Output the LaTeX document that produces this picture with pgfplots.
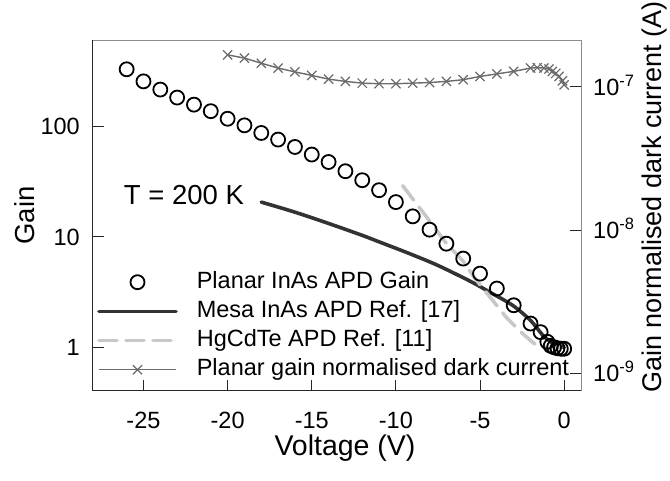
\documentclass[border=0pt]{standalone}
\usepackage{pgfplots}
\pgfplotsset{compat=1.18}
\usepackage{fontspec}
\setmainfont{Liberation Sans}

\definecolor{mesa}{HTML}{333333}
\definecolor{hgcdte}{HTML}{C8C8C8}
\definecolor{darkcur}{HTML}{6B6B6B}
\definecolor{boxgray}{HTML}{8C8C8C}

\newcommand{\tickfont}{\fontsize{23.5bp}{28bp}\selectfont}
\newcommand{\labfont}{\fontsize{28.5bp}{34bp}\selectfont}

\begin{document}
\begin{tikzpicture}
\pgfplotsset{
  every axis/.append style={
    scale only axis, width=488bp, height=351bp,
    xmin=-28, xmax=1,
    tick align=inside, major tick length=11bp,
    yminorticks=false, xminorticks=false,
    tick style={black!85, line width=1bp},
  },
}
% left axis: gain
\begin{axis}[
  ymode=log, ymin=0.402, ymax=604,
  axis x line*=bottom, axis y line*=left,
  axis line style={-, black!85, line width=1bp},
  xtick={-25,-20,-15,-10,-5,0},
  xticklabels={-25,-20,-15,-10,-5,0},
  ytick={1,10,100}, yticklabels={1,10,100},
  xticklabel style={font=\tickfont, anchor=base, yshift=-37.7bp, inner sep=0pt},
  yticklabel style={font=\tickfont, anchor=base east, xshift=-13bp, yshift=-8.4bp, inner sep=0pt},
  xlabel={Voltage (V)}, ylabel={Gain},
  xlabel style={at={([xshift=8bp,yshift=-65bp]axis description cs:0.5,0)}, anchor=base, font=\labfont, inner sep=0pt},
  ylabel style={at={([xshift=-58bp]axis description cs:0,0.5)}, anchor=base, font=\fontsize{27.5bp}{32bp}\selectfont, inner sep=0pt},
  legend style={at={(axis description cs:0,0)}, anchor=south west, xshift=4bp, yshift=10bp,
    draw=none, fill=none, inner sep=0pt, row sep=7.2bp,
    font=\fontsize{23.5bp}{28bp}\selectfont,
    nodes={inner sep=0pt, text height=17bp, text depth=5bp}},
  legend cell align=left,
  legend image code/.code={
    \draw[mark repeat=2,mark phase=2,#1] plot coordinates {(0bp,0bp) (38.5bp,0bp) (77bp,0bp)};
    \path (96bp,0bp);
  },
]
\coordinate (bl) at (rel axis cs:0,0);
\coordinate (tr) at (rel axis cs:1,1);

\addplot[only marks, mark=o, mark size=7bp, mark options={line width=1.8bp}, black] coordinates {
  (-26,328) (-25,255) (-24,215) (-23,182) (-22,157) (-21,137) (-20,117) (-19,102)
  (-18,87) (-17,75.8) (-16,65) (-15,55.5) (-14,47.5) (-13,39.2) (-12,32.5) (-11,26.4)
  (-10,20.6) (-9,15.3) (-8,11.6) (-7,8.66) (-6,6.35) (-5,4.64) (-4,3.40) (-3,2.40)
  (-2,1.64) (-1.4,1.37) (-1,1.12) (-0.8,1.03) (-0.6,1.0) (-0.4,0.98) (-0.2,0.97) (0,0.97)
};
\addlegendentry{Planar InAs APD Gain}

\addplot[mesa, line width=3.6bp, line cap=round, smooth] coordinates {
  (-18,20.6) (-16,16.7) (-14,13.2) (-12,10.3) (-11,9.0) (-9.2,7.05) (-7.5,5.5)
  (-5.5,3.9) (-4.45,3.17) (-3.07,2.4) (-2,1.75) (-1.3,1.3) (-0.8,1.12) (-0.3,1.03) (0,1.0)
};
\addlegendentry{Mesa InAs APD Ref. [17]}

\addplot[hgcdte, line width=3.6bp, line cap=round, dash pattern=on 18bp off 9bp] coordinates {
  (-9.6,29) (-8.3,16) (-7,8.7) (-6,6.0) (-5.3,4.2) (-4.25,2.66) (-3.46,1.88)
  (-2.57,1.37) (-1.9,1.12) (-1.5,1.0) (0,1.0)
};
\addlegendentry{HgCdTe APD Ref. [11]}

\addlegendimage{darkcur, line width=1.4bp, mark=x, mark size=6.5bp, mark options={line width=1.2bp}}
\addlegendentry{Planar gain normalised dark current}

\node[anchor=base west, inner sep=0pt, font=\fontsize{27.5bp}{32bp}\selectfont] at (axis cs:-26.17,19.8) {T = 200 K};
\end{axis}

% right axis: gain normalised dark current
\begin{axis}[
  ymode=log, ymin=7.52e-10, ymax=2.12e-7,
  axis x line*=top, axis y line*=right,
  axis line style={-, boxgray, line width=1bp},
  xtick=\empty,
  ytick={1e-9,1e-8,1e-7},
  yticklabels={10\textsuperscript{-9},10\textsuperscript{-8},10\textsuperscript{-7}},
  yticklabel style={font=\tickfont, anchor=base west, xshift=12bp, yshift=-8.4bp, inner sep=0pt},
  ylabel={Gain normalised dark current (A)},
  ylabel style={at={([xshift=80bp,yshift=-2bp]axis description cs:1,0)}, anchor=base west, font=\fontsize{27bp}{32bp}\selectfont, inner sep=0pt},
]
\addplot[darkcur, line width=1.4bp, mark=x, mark size=6.5bp, mark options={line width=1.2bp}] coordinates {
  (-20,1.67e-7) (-19,1.585e-7) (-18,1.46e-7) (-17,1.35e-7) (-16,1.27e-7) (-15,1.20e-7)
  (-14,1.13e-7) (-13,1.09e-7) (-12,1.06e-7) (-11,1.05e-7) (-10,1.05e-7) (-9,1.06e-7)
  (-8,1.07e-7) (-7,1.09e-7) (-6,1.12e-7) (-5,1.18e-7) (-4,1.23e-7) (-3,1.28e-7)
  (-2,1.35e-7) (-1.6,1.36e-7) (-1.2,1.35e-7) (-0.9,1.33e-7) (-0.7,1.28e-7) (-0.5,1.24e-7)
  (-0.3,1.18e-7) (-0.1,1.10e-7) (0,1.03e-7)
};
\end{axis}

\pgfresetboundingbox
\path ([xshift=-93bp,yshift=-90bp]bl) rectangle ([xshift=89bp,yshift=40bp]tr);
\end{tikzpicture}
\end{document}
